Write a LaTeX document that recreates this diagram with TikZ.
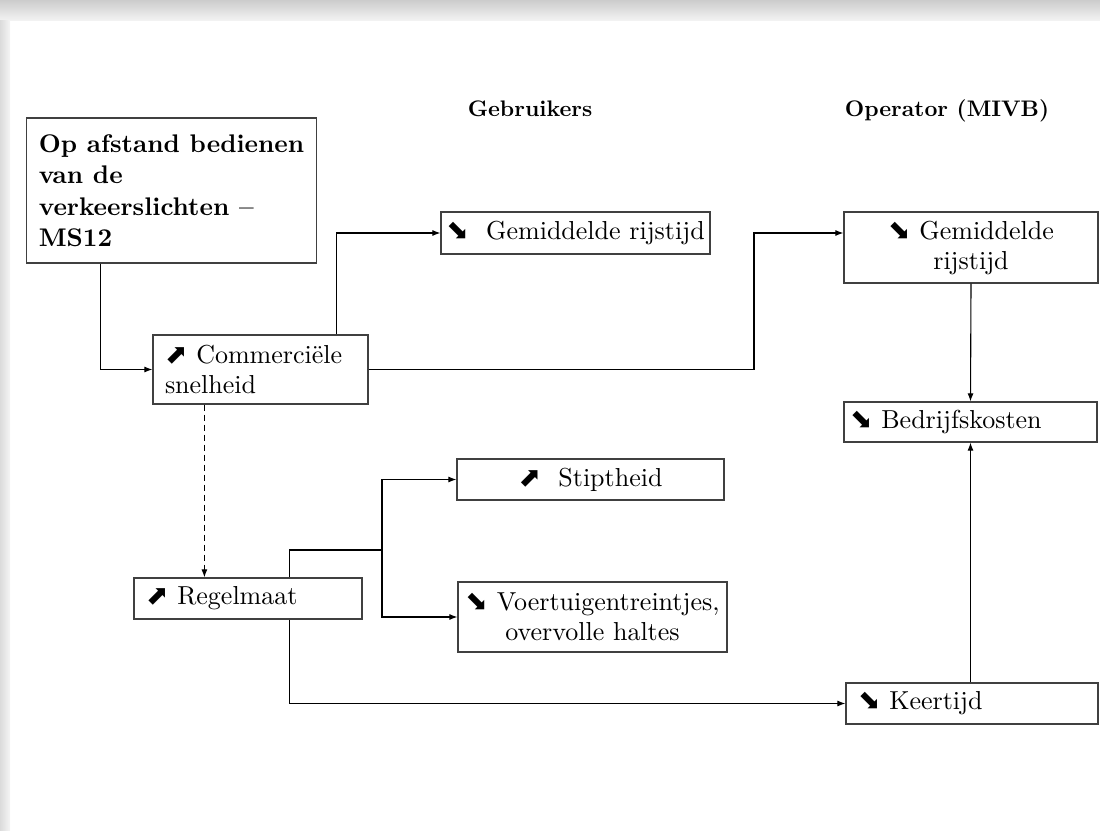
\documentclass[tikz,border=0pt]{standalone}
\usepackage{fontspec}
\setmainfont{lmroman10}[Extension=.otf, UprightFont=*-regular, BoldFont=*-bold, ItalicFont=*-italic, BoldItalicFont=*-bolditalic]
\usetikzlibrary{arrows.meta}
\newfontfamily\pijlfont{DejaVu Sans}
\newcommand{\stijgt}{{\fontsize{27}{27}\pijlfont ⬈}}
\newcommand{\daalt}{{\fontsize{27}{27}\pijlfont ⬊}}

\begin{document}
\begin{tikzpicture}[x=1pt, y=-1pt, >={Latex[length=8pt,width=6pt]},
  box/.style={draw=black!75, line width=1.2pt, inner xsep=12pt, inner ysep=0pt, minimum height=41pt, font=\fontsize{26}{30}\selectfont},
  midbox/.style={box, inner xsep=2pt, align=center},
  kop/.style={font=\bfseries\fontsize{22.5}{27}\selectfont, anchor=base}]
    \useasboundingbox (0,0) rectangle (1100,830);
    \shade[top color=black!20, bottom color=black!5] (0,0) rectangle (1100,20);
    \shade[left color=black!14, right color=black!4] (0,20) rectangle (10,830);

    \node[kop] (gebr) at (530,116) {Gebruikers};
    \node[kop] (oper) at (947,116) {Operator (MIVB)};

    \node[box, font=\bfseries\fontsize{25.5}{31.5}\selectfont, align=left, minimum width=289pt, minimum height=145pt] (titel) at (171.5,190.5) {Op afstand bedienen\\van de\\verkeerslichten –\\MS12};
    \node[box, text width=191pt, align=left, minimum height=69pt] (comm) at (260.5,369.5) {\stijgt\ Commerciële\\snelheid};
    \node[midbox, minimum width=269pt, minimum height=42pt] (rijU) at (575.5,233) {\daalt\ \ Gemiddelde rijstijd};
    \node[midbox, minimum width=254pt, minimum height=71pt] (rijO) at (971,247.5) {\daalt\ Gemiddelde\\rijstijd};
    \node[box, text width=241pt, inner xsep=6pt, align=left, minimum height=40pt] (kost) at (970.5,422) {\daalt\ Bedrijfskosten};
    \node[midbox, minimum width=267pt] (stipt) at (590.5,479.5) {\stijgt\ \ Stiptheid};
    \node[box, text width=204pt, align=left] (regel) at (248,598.5) {\stijgt\ Regelmaat};
    \node[midbox, minimum width=269pt, minimum height=70pt] (trein) at (592.5,617) {\daalt\ Voertuigentreintjes,\\overvolle haltes};
    \node[box, text width=228pt, align=left] (keer) at (972,703.5) {\daalt\ Keertijd};

    \coordinate (k1) at (754,233);
    \coordinate (d1) at ([xshift=52pt]comm.south west);
    \coordinate (r1) at ([xshift=156pt]regel.north west);
    \coordinate (split) at (382,550);

    \begin{scope}[line width=1.1pt]
    \draw[->] ([xshift=74pt]titel.south west) |- (comm.west);
    \draw[->] ([xshift=184pt]comm.north west) |- (rijU.west);
    \draw[->] (comm.east) -| (k1) -- (rijO.west |- k1);
    \draw[->] (rijO.south) -- (kost.north);
    \draw[->] (keer.north -| kost.south) -- (kost.south);
    \draw[->, dash pattern=on 6pt off 4pt] (d1) -- (d1 |- regel.north);
    \draw (r1) |- (split);
    \draw[->] (split) |- (stipt.west);
    \draw[->] (split) |- (trein.west);
    \draw[->] ([xshift=156pt]regel.south west) |- (keer.west);
    \end{scope}
\end{tikzpicture}
\end{document}
